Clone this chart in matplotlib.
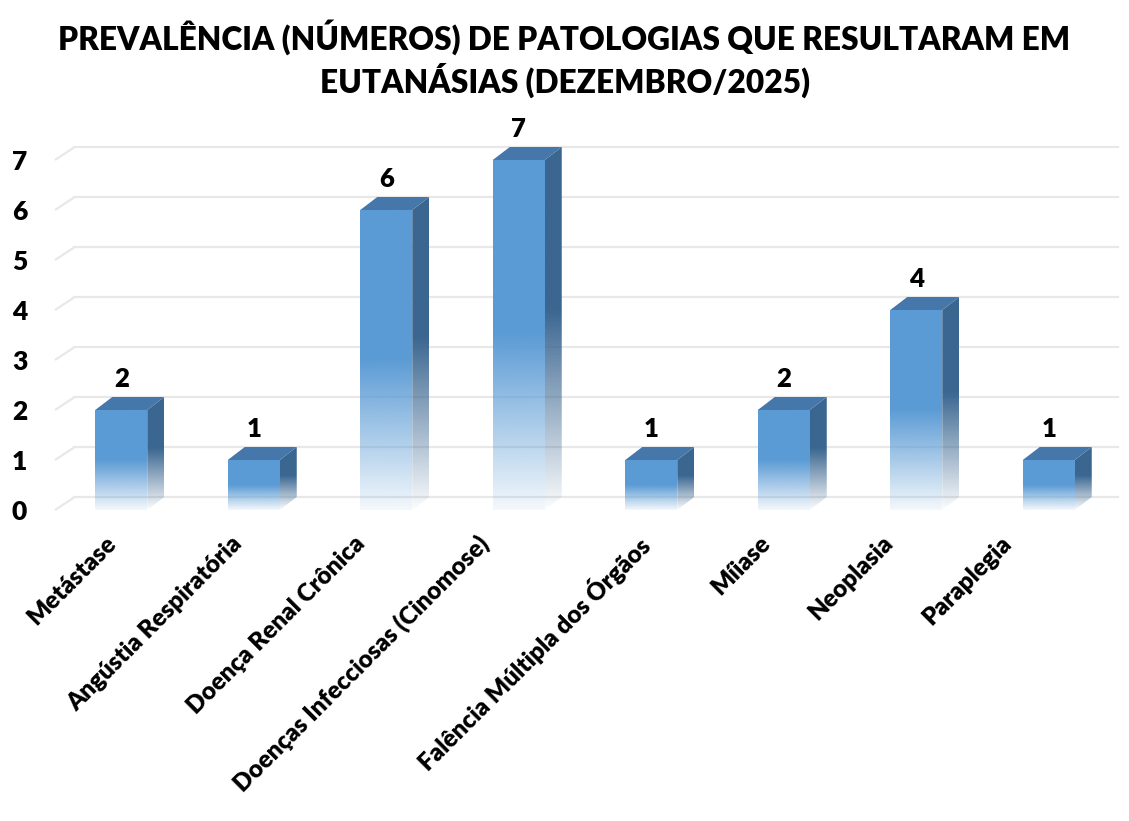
import numpy as np
import matplotlib
matplotlib.use("Agg")
import matplotlib.pyplot as plt
from matplotlib.patches import Polygon

# --- data -------------------------------------------------------------
categories = [
    "Metástase",
    "Angústia Respiratória",
    "Doença Renal Crônica",
    "Doenças Infecciosas (Cinomose)",
    "Falência Múltipla dos Órgãos",
    "Míiase",
    "Neoplasia",
    "Paraplegia",
]
counts = [2, 1, 6, 7, 1, 2, 4, 1]
yticks = [0, 1, 2, 3, 4, 5, 6, 7]
title = "PREVALÊNCIA (NÚMEROS) DE PATOLOGIAS QUE RESULTARAM EM\nEUTANÁSIAS (DEZEMBRO/2025)"

# --- style ------------------------------------------------------------
FONT = ["Lato", "DejaVu Sans"]
plt.rcParams["font.family"] = FONT
plt.rcParams["font.weight"] = "bold"
WEIGHT = "heavy"

W, H = 1129, 821
fig = plt.figure(figsize=(W / 100, H / 100), dpi=100)
fig.patch.set_facecolor("white")

# axes placed so one category slot is ~132 px and one unit is 50 px
YMAX = 8
ax_left, ax_right, ax_base = 55, 1115, 510
unit_px = 50
ax_top = ax_base - YMAX * unit_px
ax = fig.add_axes([ax_left / W, (H - ax_base) / H,
                   (ax_right - ax_left) / W, (ax_base - ax_top) / H])
ax.set_xlim(-0.5, len(categories) - 0.5)
ax.set_ylim(0, YMAX)
for s in ax.spines.values():
    s.set_visible(False)
ax.set_facecolor("none")

px_x = len(categories) / (ax_right - ax_left)   # data units per pixel (x)
px_y = 1 / unit_px                              # data units per pixel (y)

# 3-D depth offsets
bar_dx, bar_dy = 17 * px_x, 13 * px_y
grid_dx, grid_dy = 19 * px_x, 12.5 * px_y

front_col = np.array([0x5B, 0x9B, 0xD5]) / 255
top_col = "#4577AA"
side_col = np.array([0x3A, 0x66, 0x90]) / 255
grid_col = "#E8E8E8"

# perspective gridlines (front slant + back wall line)
x_left = -0.5
x_right_end = x_left + (1118 - ax_left) * px_x
for v in yticks:
    ax.plot([x_left, x_left + grid_dx], [v, v + grid_dy], color=grid_col,
            lw=1.6, zorder=1, solid_capstyle="butt", clip_on=False)
    ax.plot([x_left + grid_dx, x_right_end], [v + grid_dy, v + grid_dy],
            color=grid_col, lw=1.6, zorder=1, clip_on=False)


def fade_image(rgb, n=256, solid_from=0.5, a0=0.07):
    """Vertical RGBA gradient: opaque above `solid_from`, fading to a0 at bottom."""
    t = np.linspace(0, 1, n)  # 0 = bottom
    alpha = np.where(t >= solid_from, 1.0, a0 + (1 - a0) * (t / solid_from))
    img = np.zeros((n, 1, 4))
    img[:, 0, :3] = rgb
    img[:, 0, 3] = alpha
    return img[::-1]  # image row 0 at top


x = np.arange(len(categories))
bar_w = 52 * px_x
bars = ax.bar(x, counts, width=bar_w, color="none", edgecolor="none", zorder=3)

for rect, val in zip(bars.patches, counts):
    x0, w, h = rect.get_x(), rect.get_width(), rect.get_height()
    x1 = x0 + w

    # front face gradient clipped to the bar rectangle
    im = ax.imshow(fade_image(front_col), extent=[x0, x1, 0, h], aspect="auto",
                   interpolation="bilinear", zorder=3)
    im.set_clip_path(rect)

    # right side face
    side = Polygon([(x1, 0), (x1 + bar_dx, bar_dy), (x1 + bar_dx, h + bar_dy), (x1, h)],
                   closed=True, facecolor="none", edgecolor="none")
    ax.add_patch(side)
    ims = ax.imshow(fade_image(side_col, solid_from=0.55, a0=0.02),
                    extent=[x1, x1 + bar_dx, 0, h + bar_dy], aspect="auto",
                    interpolation="bilinear", zorder=3)
    ims.set_clip_path(side)

    # top face
    top = Polygon([(x0, h), (x1, h), (x1 + bar_dx, h + bar_dy), (x0 + bar_dx, h + bar_dy)],
                  closed=True, facecolor=top_col, edgecolor="none", zorder=4)
    ax.add_patch(top)

    # value label
    ax.annotate(f"{val}", xy=(rect.get_x() + w / 2, h + bar_dy), xytext=(0, 4),
                textcoords="offset points", ha="center", va="bottom",
                fontsize=18.5, fontweight=WEIGHT, color="black", zorder=5)

# y axis ticks
ax.set_yticks(yticks)
ax.set_yticklabels([str(v) for v in yticks], fontsize=19, fontweight=WEIGHT)
ax.tick_params(axis="y", length=0, pad=20)
ax.tick_params(axis="x", length=0)
ax.set_xticks([])

# rotated category labels
label_shift_px = [-4, -11, -21, -30, -3, -13, -23, -37]
for i, (name, sh) in enumerate(zip(categories, label_shift_px)):
    ax.text(i + (sh - 12) * px_x, -22 * px_y, name, rotation=45, rotation_mode="anchor",
            ha="right", va="top", fontsize=17.5, fontweight=WEIGHT, color="black",
            clip_on=False)

fig.text(0.5, 1 - 19 / H, title, ha="center", va="top", fontsize=22.8,
         fontweight=WEIGHT, linespacing=1.25, color="black")

fig.savefig("out.png", dpi=100, facecolor="white")
